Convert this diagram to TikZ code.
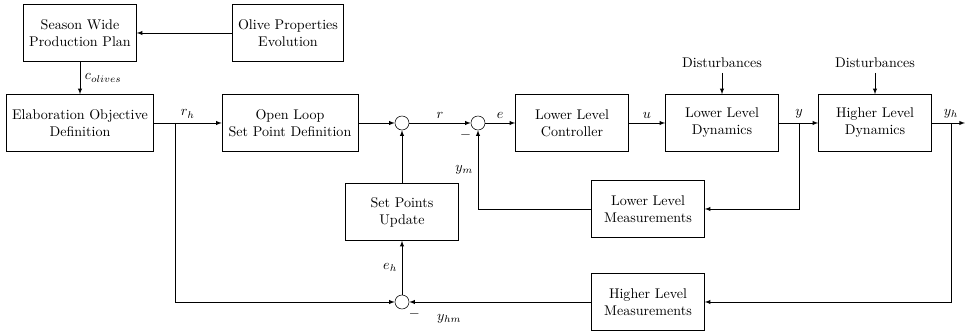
\documentclass[tikz,border=0pt]{standalone}
\usetikzlibrary{arrows}
\begin{document}
\begin{tikzpicture}[scale=1,>=latex,
		block/.style={draw,align=center,minimum width=2.825cm,minimum height=1.425cm},
		sumpt/.style={draw,circle,minimum size=0.35cm,inner sep=0pt}]
			\useasboundingbox (0,0) rectangle (24.125,8.325);
			\node[block] (plan) at (2,7.5) {Season Wide\\Production Plan};
			\node[block,minimum width=2.775cm] (olive) at (7.2,7.5) {Olive Properties\\Evolution};
			\node[block,minimum width=3.675cm] (objective) at (2,5.25) {Elaboration Objective\\Definition};
			\node[block,minimum width=3.4cm] (openloop) at (7.25,5.25) {Open Loop\\Set Point Definition};
			\node[sumpt] (sumr) at (10.05,5.25) {};
			\node[sumpt] (sume) at (11.95,5.25) {};
			\node[block] (ctrl) at (14.3,5.25) {Lower Level\\Controller};
			\node[block] (lowdyn) at (18.05,5.25) {Lower Level\\Dynamics};
			\node[block] (highdyn) at (21.875,5.25) {Higher Level\\Dynamics};
			\node (dlow) at (18.05,6.75) {Disturbances};
			\node (dhigh) at (21.875,6.75) {Disturbances};
			\node[block] (update) at (10.05,3.025) {Set Points\\Update};
			\node[block] (lowmeas) at (16.2,3.1) {Lower Level\\Measurements};
			\node[block] (highmeas) at (16.2,0.775) {Higher Level\\Measurements};
			\node[sumpt] (sumh) at (10.05,0.775) {};
			\coordinate (brh) at (4.375,5.25);
			\coordinate (bry) at (19.975,5.25);
			\coordinate (bryh) at (23.775,5.25);
			\coordinate (out) at (24.125,5.25);
			\node[below left,inner sep=1pt] (minuse) at (sume.south west) {$-$};
			\node[below right,inner sep=1pt] (minush) at (sumh.south east) {$-$};
			\draw[->] (olive) -- (plan);
			\draw[->] (plan) -- node[right] {$c_{olives}$} (objective);
			\draw[->] (objective) -- node[above] {$r_h$} (openloop);
			\draw[->] (openloop) -- (sumr);
			\draw[->] (sumr) -- node[above] {$r$} (sume);
			\draw[->] (sume) -- node[above] {$e$} (ctrl);
			\draw[->] (ctrl) -- node[above] {$u$} (lowdyn);
			\draw[->] (lowdyn) -- (highdyn);
			\node[above] (ylab) at (bry) {$y$};
			\draw[->] (highdyn) -- (out);
			\node[above] (yhlab) at (bryh) {$y_h$};
			\draw[->] (dlow) -- (lowdyn);
			\draw[->] (dhigh) -- (highdyn);
			\draw[->] (bry) |- (lowmeas);
			\draw[->] (bryh) |- (highmeas);
			\draw[->] (lowmeas) -| node[pos=0.75,left] {$y_m$} (sume);
			\draw[->] (brh) |- (sumh);
			\draw[->] (highmeas) -- node[below=5pt,pos=0.78] {$y_{hm}$} (sumh);
			\draw[->] (sumh) -- node[left] {$e_h$} (update);
			\draw[->] (update) -- (sumr);
		\end{tikzpicture}
\end{document}
